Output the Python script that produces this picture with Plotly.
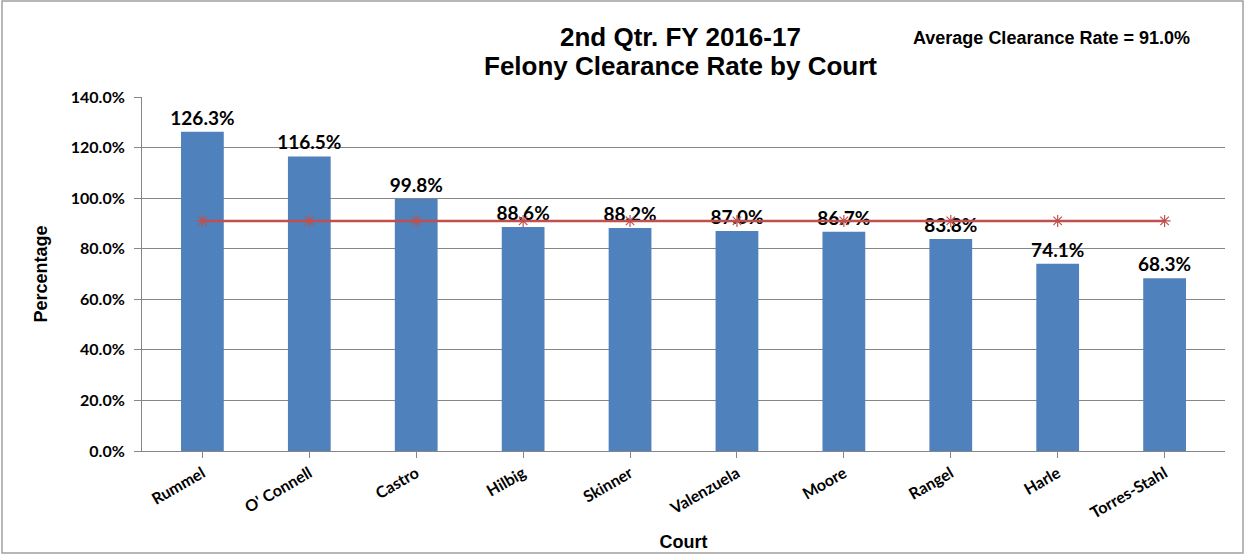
import plotly.graph_objects as go

courts = ["Rummel", "O' Connell", "Castro", "Hilbig", "Skinner", "Valenzuela",
          "Moore", "Rangel", "Harle", "Torres-Stahl"]
rates = [1.263, 1.165, 0.998, 0.886, 0.882, 0.870, 0.867, 0.838, 0.741, 0.683]
average = 0.910
avg_series = [average] * len(courts)
yticks = [0, 0.2, 0.4, 0.6, 0.8, 1.0, 1.2, 1.4]

W, H = 1247, 556
ml, mr, mt, mb = 142, 22, 97, 105

lab_font = "Lato, Carlito, Calibri, Liberation Sans, sans-serif"
title_font = "Liberation Sans Narrow, Arial Narrow, Liberation Sans, sans-serif"

fig = go.Figure()
fig.add_trace(go.Bar(
    x=courts, y=rates, marker=dict(color="#4F81BD", line=dict(width=0)),
    text=[f"{v*100:.1f}%" for v in rates], textposition="outside",
    constraintext="none",
    textfont=dict(family=lab_font, size=19, color="black", weight="bold"),
    cliponaxis=False, showlegend=False,
))
fig.add_trace(go.Scatter(
    x=courts, y=avg_series, mode="lines+markers",
    line=dict(color="#C0504D", width=2.5),
    marker=dict(symbol="asterisk-open", size=10, color="#C0504D",
                line=dict(color="#C0504D", width=1.2)),
    showlegend=False,
))

fig.update_layout(
    width=W, height=H,
    margin=dict(l=ml, r=mr, t=mt, b=mb, autoexpand=False),
    paper_bgcolor="white", plot_bgcolor="white",
    bargap=0.6,
    font=dict(family=lab_font, color="black"),
    xaxis=dict(
        automargin=False,
        showline=True, linecolor="#868686", linewidth=1,
        ticks="outside", ticklen=6, tickcolor="#868686",
        tickangle=-30, tickfont=dict(family=lab_font, size=16, color="black", weight="bold"),
        title=dict(text="<b>Court</b>", font=dict(family="Liberation Sans, Arial, sans-serif", size=18), standoff=14),
        showgrid=False,
    ),
    yaxis=dict(
        automargin=False,
        range=[0, 1.4], tickvals=yticks, tickformat=".1%",
        showline=True, linecolor="#868686", linewidth=1,
        ticks="outside", ticklen=7, tickcolor="#868686",
        ticklabelstandoff=6,
        gridcolor="#868686", gridwidth=1,
        tickfont=dict(family=lab_font, size=16, color="black", weight="bold"),
        title=dict(text="<b>Percentage</b>", font=dict(family="Liberation Sans, Arial, sans-serif", size=18), standoff=18),
        zeroline=False,
    ),
)

pw, ph = W - ml - mr, H - mt - mb

fig.add_annotation(
    text="<b>2nd Qtr. FY 2016-17</b>",
    xref="paper", yref="paper",
    x=(680 - ml) / pw, y=1 + (mt - 37) / ph,
    xanchor="center", yanchor="middle", showarrow=False,
    font=dict(family=title_font, size=26, color="black"),
)
fig.add_annotation(
    text="<b>Felony Clearance Rate by Court</b>",
    xref="paper", yref="paper",
    x=(680 - ml) / pw, y=1 + (mt - 66) / ph,
    xanchor="center", yanchor="middle", showarrow=False,
    font=dict(family=title_font, size=26, color="black"),
)
fig.add_annotation(
    text="<b>Average Clearance Rate = 91.0%</b>",
    xref="paper", yref="paper",
    x=(1051 - ml) / pw, y=1 + (mt - 38) / ph,
    xanchor="center", yanchor="middle", showarrow=False,
    font=dict(family=title_font, size=18, color="black"),
)

fig.add_shape(type="rect", xref="paper", yref="paper",
              x0=(2 - ml) / pw, x1=(1243 - ml) / pw,
              y0=((H - mb) - 553) / ph,
              y1=1 + (mt - 1) / ph,
              line=dict(color="#A0A0A0", width=1.5), layer="below")

fig.write_html("out.html", config={"displayModeBar": False},
               post_script="document.body.style.margin='0';")
